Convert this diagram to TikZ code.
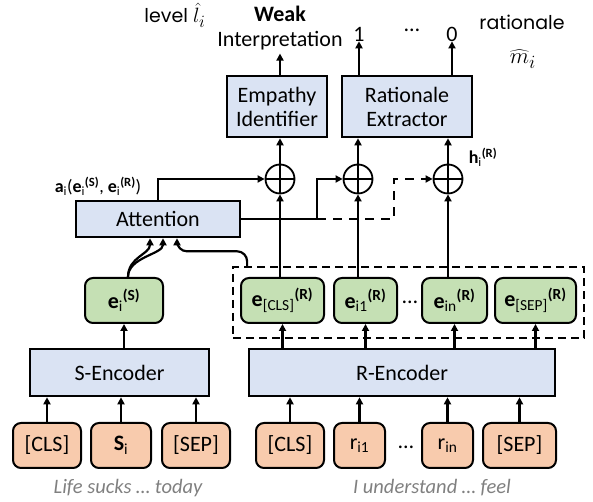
\documentclass[tikz,border=0pt]{standalone}
\usepackage{fontspec}
\setmainfont{Carlito}
\newfontfamily\gothic{Poppins}
\usetikzlibrary{arrows.meta,positioning}

\definecolor{blueF}{HTML}{DAE3F3}
\definecolor{greenF}{HTML}{C5E0B4}
\definecolor{orangeF}{HTML}{F8CBAD}
\definecolor{grayT}{HTML}{808080}

\begin{document}
\begin{tikzpicture}[x=1pt,y=1pt]
      \tikzset{
        every node/.style={font=\fontsize{22}{24}\selectfont,inner sep=0pt},
        encbox/.style={draw,line width=2.6pt,fill=blueF,minimum height=47pt},
        embbox/.style={draw,line width=2pt,rounded corners=8pt,fill=greenF,minimum height=45pt},
        tokbox/.style={draw,line width=2pt,rounded corners=8pt,fill=orangeF,minimum height=45pt},
        plus/.style={circle,draw,line width=1.8pt,minimum size=29pt,
          path picture={\draw[line width=1.8pt] (path picture bounding box.north) -- (path picture bounding box.south)
            (path picture bounding box.west) -- (path picture bounding box.east);}},
        arr/.style={-{Triangle[length=7pt,width=7pt]},line width=2.2pt},
        lab/.style={font=\fontsize{18}{20}\selectfont},
        note/.style={font=\gothic\fontsize{19}{21}\selectfont},
        quote/.style={font=\fontsize{20.5}{22}\selectfont\itshape,text=grayT}
      }
      \useasboundingbox (0,0) rectangle (593,502);

      % inputs
      \node[tokbox,minimum width=68pt] (scls) at (47,56.5) {[CLS]};
      \node[tokbox,minimum width=60pt,node distance=74pt,right of=scls] (ss) {\textbf{S}\textsubscript{i}};
      \node[tokbox,minimum width=68pt,node distance=75pt,right of=ss] (ssep) {[SEP]};

      \node[tokbox,minimum width=68pt] (rcls) at (290,56.5) {[CLS]};
      \node[tokbox,minimum width=51pt,node distance=69.5pt,right of=rcls] (r1) {r\textsubscript{i1}};
      \node[tokbox,minimum width=51pt,node distance=88pt,right of=r1] (rn) {r\textsubscript{in}};
      \node[tokbox,minimum width=73pt,node distance=72pt,right of=rn] (rsep) {[SEP]};
      \node (rdots) at (406,55) {…};

      \node[quote] (stext) at (128,14) {Life sucks … today};
      \node[quote] (rtext) at (432,14) {I understand … feel};

      % encoders
      \node[encbox,minimum width=179pt] (senc) at (119.5,129.5) {S-Encoder};
      \node[encbox,minimum width=306pt] (renc) at (402,129.5) {R-Encoder};

      % embeddings
      \node[draw,dashed,line width=1.8pt,dash pattern=on 8pt off 5pt,minimum width=351pt,minimum height=71pt] (rbox) at (408.5,199.5) {};
      \node[embbox,minimum width=78pt] (es) at (124,201.5) {\textbf{e}\textsubscript{i}\textsuperscript{\textbf{(S)}}};
      \node[embbox,minimum width=83pt] (ecls) at (282.5,201.5) {\textbf{e}\textsubscript{[CLS]}\textsuperscript{\textbf{(R)}}};
      \node[embbox,minimum width=63pt,node distance=83pt,right of=ecls] (e1) {\textbf{e}\textsubscript{i1}\textsuperscript{\textbf{(R)}}};
      \node[embbox,minimum width=65pt,node distance=89pt,right of=e1] (en) {\textbf{e}\textsubscript{in}\textsuperscript{\textbf{(R)}}};
      \node[embbox,minimum width=81pt,node distance=81pt,right of=en] (esep) {\textbf{e}\textsubscript{[SEP]}\textsuperscript{\textbf{(R)}}};
      \node (edots) at (410,200) {…};

      % attention and combination
      \node[encbox,minimum width=164pt,minimum height=36pt] (att) at (158,283) {Attention};
      \node[lab] (alab) at (98,316) {\textbf{a}\textsubscript{i}(\textbf{e}\textsubscript{i}\textsuperscript{\textbf{(S)}}, \textbf{e}\textsubscript{i}\textsuperscript{\textbf{(R)}})};
      \node[plus] (c1) at (280,323) {};
      \node[plus] (c2) at (358,323) {};
      \node[plus] (c3) at (448,323) {};
      \node[lab] (hlab) at (483,345) {\textbf{h}\textsubscript{i}\textsuperscript{\textbf{(R)}}};
      \coordinate (split) at (317,283);
      \coordinate (dsplit) at (394,283);

      % outputs
      \node[encbox,minimum width=100pt,minimum height=61pt,align=center] (ei) at (277,395.5) {Empathy\\Identifier};
      \node[encbox,minimum width=130pt,minimum height=61pt,align=center] (re) at (407,395.5) {Rationale\\Extractor};
      \node (interp) at (280,461) {Interpretation};
      \node (weak) at (280,488) {\textbf{Weak}};
      \node (one) at (359,468) {1};
      \node (odots) at (412,472) {…};
      \node (zero) at (452,468) {0};
      \node[note] (level) at (175,487) {level \scalebox{1.2}{$\hat{l}_i$}};
      \node[note] (rat) at (522,480) {rationale};
      \node[note] (mhat) at (523,443) {\scalebox{1.3}{$\widehat{m}_i$}};

      % connectors
      \foreach \t in {scls,ss,ssep} \draw[arr] (\t.north) -- (\t.north |- senc.south);
      \foreach \t in {rcls,r1,rn,rsep} \draw[arr] (\t.north) -- (\t.north |- renc.south);
      \draw[arr] (es |- senc.north) -- (es.south);
      \foreach \e in {ecls,e1,en,esep} \draw[arr] (\e |- renc.north) -- (\e.south);

      \draw[arr] ([xshift=4pt]es.north) .. controls +(0,20) and +(0,-16) .. ([xshift=-8pt]att.south);
      \draw[arr] ([xshift=4pt]es.north) .. controls +(0,20) and +(0,-16) .. ([xshift=5pt]att.south);
      \draw[arr,rounded corners=10pt] ([xshift=15pt]rbox.north west) |- ([xshift=19pt,yshift=-13pt]att.south) -- ([xshift=19pt]att.south);

      \draw[arr] (att.north) |- (c1.west);
      \draw[line width=2.2pt] (att.east) -- (split);
      \draw[arr] (split) |- (c2.west);
      \draw[arr,dashed,dash pattern=on 9pt off 7pt] (split) -- (dsplit) |- (c3.west);

      \draw[arr] (c1 |- ecls.north) -- (c1.south);
      \draw[arr] (c2 |- e1.north) -- (c2.south);
      \draw[arr] (c3 |- en.north) -- (c3.south);
      \draw[arr] (c1.north) -- (c1 |- ei.south);
      \draw[arr] (c2.north) -- (c2 |- re.south);
      \draw[arr] (c3.north) -- (c3 |- re.south);

      \draw[arr] (ei.north -| c1) -- ([yshift=-3pt]interp.south -| c1);
      \draw[arr] (re.north -| one) -- (one.south);
      \draw[arr] (re.north -| zero) -- (zero.south);
\end{tikzpicture}
\end{document}
